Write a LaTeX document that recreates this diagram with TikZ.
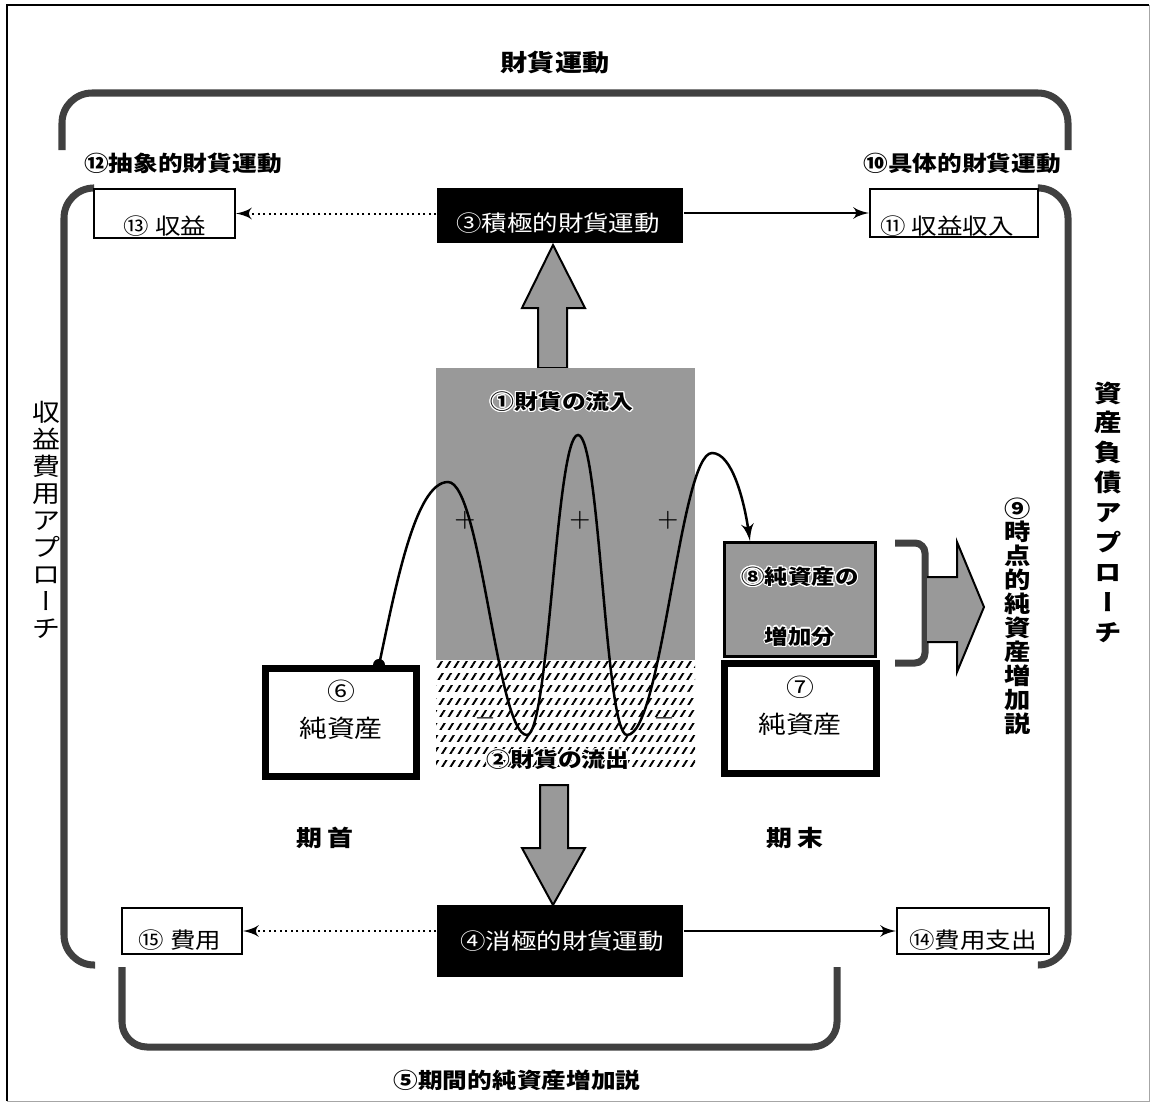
\documentclass[tikz,border=0pt]{standalone}
\usepackage{fontspec}
\usepackage[copies]{contour}
\usetikzlibrary{arrows}
\usetikzlibrary{patterns.meta}
\newfontfamily\jp[FakeStretch=1.15]{Noto Sans CJK JP}
\newfontfamily\jpv[FakeStretch=1.15,RawFeature=+vert]{Noto Sans CJK JP}
\contourlength{0.3pt}

\begin{document}
\begin{tikzpicture}[x=0.01cm, y=-0.01cm,
  bracket/.style={black!75, line width=0.07cm, rounded corners=0.3cm},
  thinbox/.style={draw, line width=0.02cm, fill=white, inner sep=0},
  blackbox/.style={fill=black, inner sep=0},
  heavybox/.style={draw, line width=0.075cm, fill=white, inner sep=0},
  shaded/.style={fill=black!40, inner sep=0},
  blockarrow/.style={fill=black!40, draw, line width=0.02cm, line join=miter},
  flow/.style={line width=0.02cm, ->, >=latex'},
  bigtitle/.style={font=\jp\bfseries\fontsize{6.7}{8}\selectfont, inner sep=0},
  lbl/.style={font=\jp\bfseries\fontsize{6.1}{7}\selectfont, inner sep=0},
  boxtext/.style={font=\jp\fontsize{6.3}{7}\selectfont, inner sep=0},
  nettext/.style={font=\jp\fontsize{6.9}{10.5}\selectfont, align=center, inner sep=0},
  haloText/.style={font=\jp\bfseries\fontsize{5.9}{7}\selectfont, align=center, inner sep=0},
  sign/.style={font=\fontsize{7.3}{8}\selectfont, inner sep=0}]
\useasboundingbox (0,0) rectangle (1151,1103);
\draw[line width=0.02cm] (7,1101) -- (7,5) -- (1149,5);
\draw[black!35, line width=0.01cm] (1149,5) -- (1149,1101) -- (7,1101);

\node[bigtitle] (zaika) at (555,63) {財貨運動};
\draw[bracket] (62,150) -- (62,93) -- (1068,93) -- (1068,150);
\node[lbl] (chusho) at (183,163) {⑫抽象的財貨運動};
\node[lbl] (gutai) at (962,163) {⑩具体的財貨運動};
\draw[bracket] (93,188) -- (64,188) -- (64,965) -- (95,965);
\draw[bracket] (1040,188) -- (1068,188) -- (1068,965) -- (1038,965);
\draw[bracket, rounded corners=0.25cm] (122,967) -- (122,1047) -- (837,1047) -- (837,967);
\node[lbl] (kikan) at (517,1080) {⑤期間的純資産増加説};

\node[font=\jp\fontsize{6.9}{7.7}\selectfont, align=center, inner sep=0] (shuekihiyo) at (46,520)
  {収\\益\\費\\用\\ア\\プ\\ロ\\{\jpv ー}\\チ};
\node[font=\jpv\bfseries\fontsize{6.8}{8.5}\selectfont, align=center, inner sep=0] (shisanfusai) at (1108,512)
  {資\\産\\負\\債\\ア\\プ\\ロ\\ー\\チ};
\node[font=\jpv\bfseries\fontsize{6.5}{6.8}\selectfont, align=center, inner sep=0] (jiten) at (1018,616)
  {⑨\\時\\点\\的\\純\\資\\産\\増\\加\\説};

\node[thinbox, minimum width=1.41cm, minimum height=0.49cm] (shueki) at (164.5,213.5) {};
\node[boxtext] at (165,226) {⑬ 収益};
\node[blackbox, minimum width=2.46cm, minimum height=0.55cm] (sekkyoku) at (560,215.5) {};
\node[boxtext, text=white] at (558,223) {③積極的財貨運動};
\node[thinbox, minimum width=1.68cm, minimum height=0.48cm] (shunyu) at (954,213) {};
\node[boxtext] at (947,226) {⑪ 収益収入};
\draw[flow, densely dotted] (sekkyoku.west |- shueki.east) -- (shueki.east);
\draw[flow] (sekkyoku.east |- shunyu.west) -- (shunyu.west);

\node[thinbox, minimum width=1.20cm, minimum height=0.46cm] (hiyo) at (182,931) {};
\node[boxtext] at (180,940) {⑮ 費用};
\node[blackbox, minimum width=2.46cm, minimum height=0.72cm] (shokyoku) at (560,941) {};
\node[boxtext, text=white] at (562,941) {④消極的財貨運動};
\node[thinbox, minimum width=1.52cm, minimum height=0.46cm] (shishutsu) at (973,931) {};
\node[boxtext] at (973,940) {⑭費用支出};
\draw[flow, densely dotted] (shokyoku.west |- hiyo.east) -- (hiyo.east);
\draw[flow] (shokyoku.east |- shishutsu.west) -- (shishutsu.west);

\draw[blockarrow] (538,368) -- (538,308) -- (522,308) -- (553,245) -- (585,308) -- (567,308) -- (567,368) -- cycle;
\node[shaded, minimum width=2.59cm, minimum height=2.92cm] (inflow) at (565.5,514) {};
\path node[minimum width=2.59cm, minimum height=1.12cm, inner sep=0] (outflow) at (565.5,716) {};
\foreach \r in {0,...,8}
  \fill[pattern={Lines[angle=58, distance=2pt, line width=0.55pt]}] (436,{661+12.4*\r}) rectangle (695,{667+12.4*\r});
\draw[blockarrow] (540,785) -- (540,848) -- (522,848) -- (553,905) -- (585,848) -- (568,848) -- (568,785) -- cycle;
\node[haloText] at (562,402) {\contour{white}{①財貨の流入}};
\node[haloText] at (558,760) {\contour{white}{②財貨の流出}};
\foreach \px in {465,580,668}
  \node[sign] at (\px,520) {$+$};
\foreach \px in {485,664}
  \node[sign] at (\px,718) {$-$};

\node[heavybox, minimum width=1.505cm, minimum height=1.075cm] (kishu) at (341,722.5) {};
\node[nettext] at (341,710) {⑥\\純資産};
\node[shaded, draw, line width=0.03cm, minimum width=1.51cm, minimum height=1.14cm] (zoka) at (800,599.5) {};
\node[haloText, font=\jp\bfseries\fontsize{5.8}{17}\selectfont] at (800,607) {\contour{white}{⑧純資産の}\\\contour{white}{増加分}};
\node[heavybox, minimum width=1.515cm, minimum height=1.095cm] (kimatsu) at (800.5,718.5) {};
\node[nettext] at (800,706) {⑦\\純資産};

\coordinate (start) at ([xshift=0.38cm]kishu.north);
\draw[line width=0.025cm, ->, >=latex'] (start) .. controls (395,590) and (415,482) .. (448,482)
  .. controls (481,482) and (497,735) .. (527,735) .. controls (549,735) and (556,435) .. (578,435)
  .. controls (600,435) and (605,735) .. (627,735) .. controls (662,735) and (680,453) .. (712,453)
  .. controls (732,453) and (744,500) .. ([xshift=-0.5cm]zoka.north);
\fill (start) circle (0.06cm);

\draw[bracket, rounded corners=0.1cm] (895,543) -- (925,543) -- (925,663) -- (895,663);
\draw[blockarrow] (927,577) -- (957,577) -- (957,542) -- (984,607) -- (957,672) -- (957,642) -- (927,642);

\node[lbl, font=\jp\bfseries\fontsize{6.4}{7}\selectfont] at (325,838) {期 首};
\node[lbl, font=\jp\bfseries\fontsize{6.4}{7}\selectfont] at (795,838) {期 末};
\end{tikzpicture}
\end{document}
